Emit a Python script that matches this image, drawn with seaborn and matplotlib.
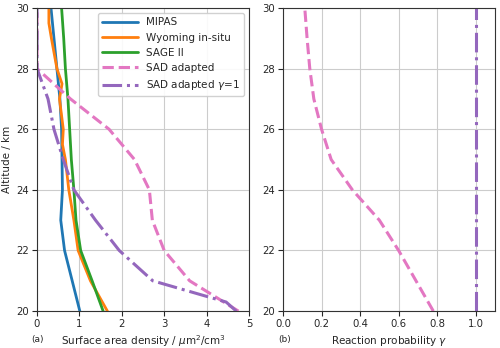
import numpy as np
import pandas as pd
import seaborn as sns
import matplotlib.pyplot as plt

# altitude levels (km)
alt = [20, 21, 22, 23, 24, 25, 26, 27, 28, 29, 30]
alt_wy = [20, 21, 22, 23, 24, 25, 25.5, 26, 27, 27.5, 28, 29, 29.5, 30]

# surface area density, um2/cm3
mipas = [1.01, 0.83, 0.65, 0.56, 0.60, 0.59, 0.58, 0.54, 0.47, 0.40, 0.33]
wyoming = [1.66, 1.26, 0.97, 0.87, 0.75, 0.67, 0.60, 0.62, 0.53, 0.59, 0.47, 0.34, 0.28, 0.28]
sage = [1.56, 1.30, 1.03, 0.92, 0.87, 0.81, 0.77, 0.73, 0.67, 0.63, 0.58]
sad_adapted = [4.75, 3.60, 3.00, 2.72, 2.65, 2.30, 1.70, 0.79, 0.0, 0.0, 0.0]
alt_g1 = [20, 20.3, 21, 22, 23, 24, 25, 26, 27, 28, 29, 30]
sad_gamma1 = [4.70, 4.46, 2.73, 1.94, 1.38, 0.87, 0.62, 0.40, 0.26, 0.0, 0.0, 0.0]

# reaction probability
gamma_adapted = [0.78, 0.69, 0.60, 0.50, 0.36, 0.25, 0.20, 0.16, 0.139, 0.125, 0.113]
gamma_one = [1.0] * len(alt)

pink = "#e377c2"
purple = "#9467bd"

sns.set_style("ticks")
plt.rcParams["font.family"] = ["DejaVu Sans"]

fig = plt.figure(figsize=(5.0, 3.48), dpi=100)
ax1 = fig.add_axes([0.074, 0.106, 0.424, 0.871])
ax2 = fig.add_axes([0.566, 0.106, 0.424, 0.871])

sns.lineplot(x=mipas, y=alt, orient="y", ax=ax1, color="#1f77b4", lw=2, label="MIPAS")
sns.lineplot(x=wyoming, y=alt_wy, orient="y", ax=ax1, color="#ff7f0e", lw=2, label="Wyoming in-situ")
sns.lineplot(x=sage, y=alt, orient="y", ax=ax1, color="#2ca02c", lw=2, label="SAGE II")
sns.lineplot(x=sad_adapted, y=alt, orient="y", ax=ax1, color=pink, lw=2.2, ls="--", label="SAD adapted")
sns.lineplot(x=sad_gamma1, y=alt_g1, orient="y", ax=ax1, color=purple, lw=2.2, ls="-.", label="SAD adapted $\\gamma$=1")

sns.lineplot(x=gamma_adapted, y=alt, orient="y", ax=ax2, color=pink, lw=2.2, ls="--")
sns.lineplot(x=gamma_one, y=alt, orient="y", ax=ax2, color=purple, lw=2.2, ls="-.")

ax1.set_xlim(0, 5)
ax1.set_ylim(20, 30)
ax1.set_xticks([0, 1, 2, 3, 4, 5])
ax1.set_ylabel("Altitude / km", fontsize=7.5, labelpad=3)
ax1.set_xlabel("Surface area density / $\\mu$m$^2$/cm$^3$", fontsize=7.5, labelpad=3)
ax1.legend(loc="upper right", fontsize=7.5, handlelength=3.4, framealpha=0.9)

ax2.set_xlim(0, 1.1)
ax2.set_ylim(20, 30)
ax2.set_xticks([0, 0.2, 0.4, 0.6, 0.8, 1.0])
ax2.set_xlabel("Reaction probability $\\gamma$", fontsize=7.5, labelpad=3)
ax2.set_ylabel("")

for ax in (ax1, ax2):
    ax.grid(True, color="#cccccc", lw=0.8)
    ax.tick_params(labelsize=7.3, length=3.5, pad=2.5)
    for s in ax.spines.values():
        s.set_color("#333333")

fig.text(0.062, 0.018, "(a)", fontsize=6.5)
fig.text(0.556, 0.018, "(b)", fontsize=6.5)

fig.savefig("out.png", dpi=100)
